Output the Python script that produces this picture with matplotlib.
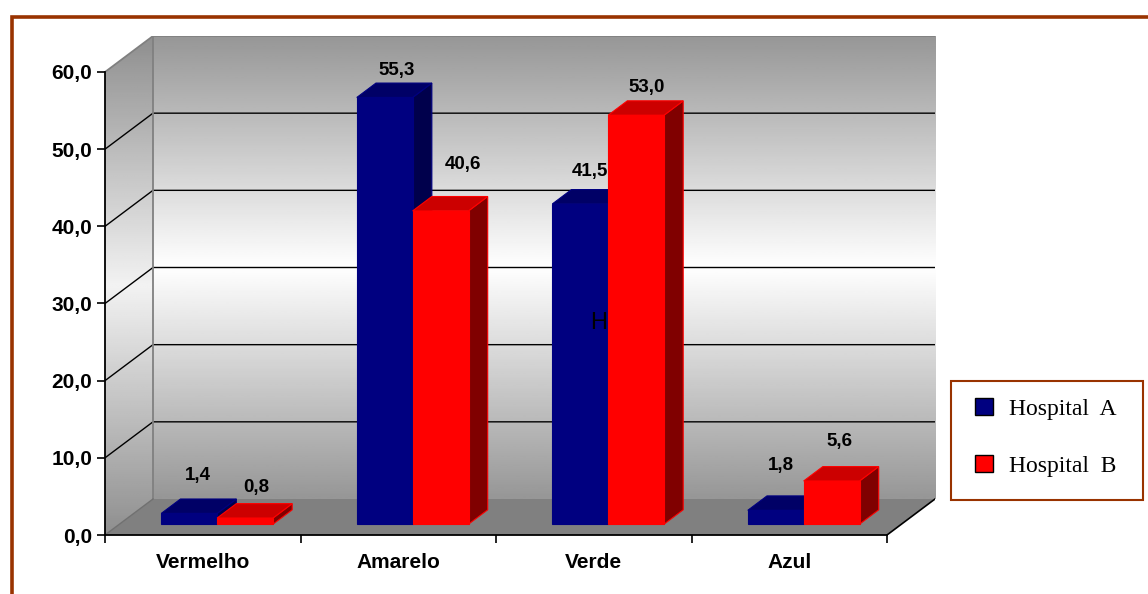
import numpy as np
import matplotlib
matplotlib.use("Agg")
import matplotlib.pyplot as plt
from matplotlib.patches import Polygon, Rectangle, Patch

categories = ["Vermelho", "Amarelo", "Verde", "Azul"]
hospital_a = [1.4, 55.3, 41.5, 1.8]
hospital_b = [0.8, 40.6, 53.0, 5.6]
series_names = ["Hospital  A", "Hospital  B"]
y_ticks = [0, 10, 20, 30, 40, 50, 60]

# label lift above bar top (points), per category / series - excel places them a bit unevenly
label_lift = [[22, 17], [14, 28], [18, 15], [27, 23]]
label_shift = [[-1, 1], [2, 9], [0, 1], [-3, -1]]

plt.rcParams['font.family'] = ['Liberation Sans', 'DejaVu Sans']
plt.rcParams['font.weight'] = 'bold'

W, H = 1148, 594
fig = plt.figure(figsize=(W / 100, H / 100), dpi=100)
fig.patch.set_facecolor('white')
ax = fig.add_axes([105 / W, 59 / H, 830 / W, 499 / H])

n = len(categories)
ymax = y_ticks[-1]
DX = 0.2455   # depth of the 3d box, category units
DY = 4.665    # depth of the 3d box, value units
d0, d1 = 0.3, 0.7
bw = 1 / 3.5


def proj(x, v, d):
    return (x + d * DX, v + d * DY)


# walls with the grey-white-grey gradient
t = np.linspace(0, 1, 256)
grad = (1 - 0.41 * np.abs(2 * t - 1))[:, None]
ax.imshow(grad, extent=(DX, n + DX, DY, ymax + DY), aspect='auto', cmap='gray',
          vmin=0, vmax=1, zorder=0, interpolation='bilinear')
left_wall = Polygon([(0, 0), (DX, DY), (DX, ymax + DY), (0, ymax)], closed=True,
                    fc='none', ec='none')
ax.add_patch(left_wall)
im = ax.imshow(grad * 0.95, extent=(0, DX, 0, ymax + DY), aspect='auto', cmap='gray',
               vmin=0, vmax=1, zorder=0, interpolation='bilinear')
im.set_clip_path(left_wall)

floor = Polygon([(0, 0), (n, 0), (n + DX, DY), (DX, DY)], closed=True,
                fc='#808080', ec='none', zorder=1)
ax.add_patch(floor)

for v in y_ticks[1:-1]:
    ax.plot([0, DX, n + DX], [v, v + DY, v + DY], color='black', lw=1, zorder=1.5)
ax.plot([0, DX, n + DX], [ymax, ymax + DY, ymax + DY], color='#808080', lw=1.3, zorder=1.5)
ax.plot([DX, DX], [DY, ymax + DY], color='#808080', lw=1.3, zorder=1.5)
ax.plot([0, DX], [0, DY], color='#707070', lw=1, zorder=1.5)
ax.plot([n, n + DX], [0, DY], color='black', lw=1.2, zorder=1.5)

# 3d bars
styles = [('#000080', '#000066', '#00004c', '#000080'),
          ('#ff0000', '#cc0000', '#800000', '#ff0000')]
z = 3
for i in range(n):
    for j, vals in enumerate([hospital_a, hospital_b]):
        v = vals[i]
        x0 = i + 0.75 * bw + j * bw
        x1 = x0 + bw
        fc, tc, sc, ec = styles[j]
        front = [proj(x0, 0, d0), proj(x1, 0, d0), proj(x1, v, d0), proj(x0, v, d0)]
        top = [proj(x0, v, d0), proj(x1, v, d0), proj(x1, v, d1), proj(x0, v, d1)]
        side = [proj(x1, 0, d0), proj(x1, 0, d1), proj(x1, v, d1), proj(x1, v, d0)]
        for pts, c in [(side, sc), (top, tc), (front, fc)]:
            ax.add_patch(Polygon(pts, closed=True, fc=c, ec=ec, lw=0.8, zorder=z))
        z += 0.1
        cx, cy = proj((x0 + x1) / 2, v, 0.5)
        ax.annotate(f"{v:.1f}".replace('.', ','), (cx, cy),
                    xytext=(label_shift[i][j], label_lift[i][j]), textcoords='offset points',
                    ha='center', va='center', fontsize=13.5, fontweight='bold', zorder=6)

# stray text present in the original chart
ax.text(2.527, 27.5, "H", fontsize=17, fontweight='normal', ha='center', va='center',
        zorder=3.45)

# front axis lines
ax.plot([0, 0], [0, ymax], color='black', lw=1.3, clip_on=False, zorder=4)
ax.plot([0, n], [0, 0], color='black', lw=1.3, clip_on=False, zorder=4)

ax.set_xlim(0, n + DX)
ax.set_ylim(0, ymax + DY)
for s in ax.spines.values():
    s.set_visible(False)
ax.patch.set_visible(False)

ax.set_yticks(y_ticks)
ax.set_yticklabels([f"{v:.1f}".replace('.', ',') for v in y_ticks])
ax.set_xticks(range(n + 1))
ax.set_xticklabels([])
ax.set_xticks([i + 0.5 for i in range(n)], minor=True)
ax.set_xticklabels(categories, minor=True)
ax.tick_params(axis='y', length=6, width=1.2, pad=3, labelsize=15)
ax.tick_params(axis='x', which='major', length=6, width=1.2)
ax.tick_params(axis='x', which='minor', length=0, pad=13, labelsize=15)

# legend with its own box
fig.add_artist(Rectangle((951 / W, 1 - 500 / H), 192 / W, 119 / H, transform=fig.transFigure,
                         fc='white', ec='#993300', lw=1.5))
handles = [Patch(fc='#000080', ec='black'), Patch(fc='#ff0000', ec='black')]
fig.legend(handles, series_names, loc='upper left', bbox_to_anchor=(975 / W, 1 - 398 / H),
           frameon=False, prop={'family': 'Liberation Serif', 'size': 17, 'weight': 'normal'},
           handlelength=0.76, handleheight=0.76, handletextpad=0.68, labelspacing=1.47,
           borderpad=0, borderaxespad=0)

# outer frame, only top and left edges fall inside the picture
fig.add_artist(Rectangle((11.5 / W, -0.1), 1.2, 1.1 - 17 / H, transform=fig.transFigure,
                         fill=False, ec='#993300', lw=2.6))

fig.savefig('out.png', dpi=100)
